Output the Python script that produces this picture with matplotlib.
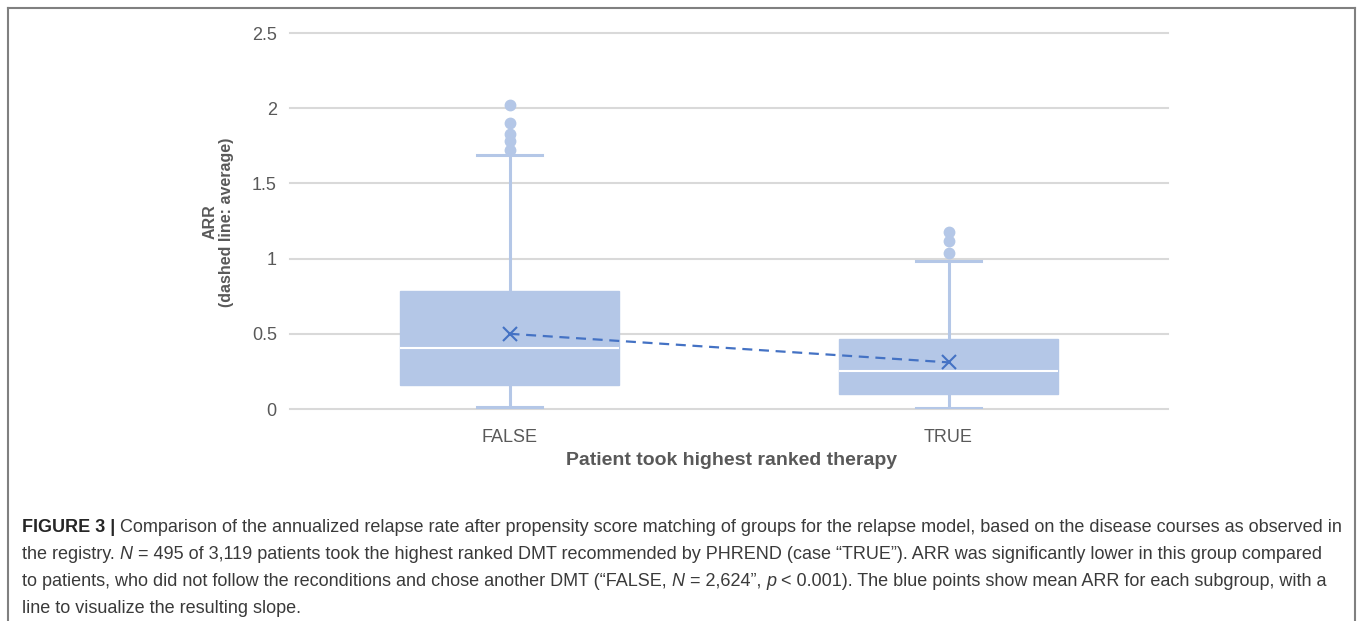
import matplotlib
matplotlib.use("Agg")
import matplotlib.pyplot as plt
from matplotlib.lines import Line2D
from matplotlib.ticker import FuncFormatter

# ---------------- data ----------------
categories = ["FALSE", "TRUE"]
whisker_low = [0.013, 0.007]
q1 = [0.16, 0.10]
median = [0.405, 0.253]
q3 = [0.785, 0.465]
whisker_high = [1.69, 0.985]
means = [0.50, 0.31]
outliers_false = [1.72, 1.78, 1.83, 1.90, 2.02]
outliers_true = [1.04, 1.12, 1.18]
yticks = [0, 0.5, 1, 1.5, 2, 2.5]

ylabel_text = "ARR\n(dashed line: average)"
xlabel_text = "Patient took highest ranked therapy"

caption_lines = [
    [("FIGURE 3 |", "bold"),
     (" Comparison of the annualized relapse rate after propensity score matching of groups for the relapse model, based on the disease courses as observed in", "normal")],
    [("the registry. ", "normal"), ("N", "italic"),
     (" = 495 of 3,119 patients took the highest ranked DMT recommended by PHREND (case \u201cTRUE\u201d). ARR was significantly lower in this group compared", "normal")],
    [("to patients, who did not follow the reconditions and chose another DMT (\u201cFALSE, ", "normal"), ("N", "italic"),
     (" = 2,624\u201d, ", "normal"), ("p", "italic"),
     (" < 0.001). The blue points show mean ARR for each subgroup, with a", "normal")],
    [("line to visualize the resulting slope.", "normal")],
]

# ---------------- style ----------------
BOX = "#B4C7E7"
MEAN = "#4472C4"
GRID = "#D9D9D9"
TXT = "#595959"
CAP = "#3a3a3a"
FONT = "Liberation Sans"
cap_family = "Liberation Sans"

plt.rcParams["font.family"] = [FONT, "DejaVu Sans"]

W, H = 1358, 621
fig = plt.figure(figsize=(W / 100, H / 100), dpi=100)
fig.patch.set_facecolor("white")

ax = fig.add_axes([290 / W, (H - 409) / H, 878 / W, 376 / H])

stats = []
for i, cat in enumerate(categories):
    stats.append(dict(label=cat, whislo=whisker_low[i], q1=q1[i], med=median[i],
                      q3=q3[i], whishi=whisker_high[i],
                      fliers=[outliers_false, outliers_true][i], mean=means[i]))

positions = list(range(len(categories)))
ax.bxp(stats, positions=positions, widths=0.5, capwidths=0.148,
       patch_artist=True, showmeans=False, manage_ticks=False,
       boxprops=dict(facecolor=BOX, edgecolor=BOX, linewidth=1),
       whiskerprops=dict(color=BOX, linewidth=2.2),
       capprops=dict(color=BOX, linewidth=2.2),
       medianprops=dict(color="white", linewidth=1.5),
       flierprops=dict(marker="o", markerfacecolor=BOX, markeredgecolor=BOX,
                       markersize=7.5))

ax.plot(positions, means, linestyle=(0, (4.5, 3)), color=MEAN, linewidth=1.6,
        zorder=4)
ax.plot(positions, means, linestyle="none", marker="x", color=MEAN,
        markersize=10, markeredgewidth=1.5, zorder=5)

ax.set_xlim(-0.5, len(categories) - 0.5)
ax.set_ylim(0, 2.5)
ax.set_yticks(yticks)
ax.yaxis.set_major_formatter(FuncFormatter(lambda v, p: f"{v:g}"))
ax.set_xticks(positions)
ax.set_xticklabels(categories)
ax.set_axisbelow(True)
ax.yaxis.grid(True, color=GRID, linewidth=1.5)
ax.xaxis.grid(False)
for gl in ax.get_ygridlines():
    gl.set_clip_on(False)
for s in ax.spines.values():
    s.set_visible(False)
ax.tick_params(axis="both", length=0, labelsize=13, labelcolor=TXT)
ax.tick_params(axis="y", pad=9.5)
ax.tick_params(axis="x", pad=14.5)
ax.set_facecolor("none")

fig.text(218 / W, 1 - 222 / H, ylabel_text, rotation=90, ha="center", va="center",
         multialignment="center", fontsize=11.5, fontweight="bold", color=TXT,
         linespacing=1.15)
fig.text(732 / W, 1 - 465 / H, xlabel_text, ha="center", va="baseline",
         fontsize=14, fontweight="bold", color=TXT)

# ---------------- border ----------------
bx0, bx1, by0 = 7.5 / W, 1354.5 / W, 1 - 7.5 / H
for xs, ys in [([bx0, bx1], [by0, by0]), ([bx0, bx0], [by0, -0.01]), ([bx1, bx1], [by0, -0.01])]:
    fig.add_artist(Line2D(xs, ys, transform=fig.transFigure, color="#808080", linewidth=1.5))

# ---------------- caption ----------------
fig.canvas.draw()
renderer = fig.canvas.get_renderer()


def style_kw(style, size):
    kw = dict(fontsize=size, family=[cap_family, "DejaVu Sans"], color=CAP)
    if style == "bold":
        kw["fontweight"] = "bold"
        kw["color"] = "#262626"
    elif style == "italic":
        kw["fontstyle"] = "italic"
    return kw


def text_width(s, style, size):
    t = fig.text(0, 0, s, **style_kw(style, size))
    w = t.get_window_extent(renderer).width
    t.remove()
    return w


def space_width(style, size):
    return text_width("x x", style, size) - text_width("xx", style, size)


def draw_line(segs, x0, ybase, size):
    x = x0
    artists = []
    for s, style in segs:
        lead = len(s) - len(s.lstrip(" "))
        trail = len(s) - len(s.rstrip(" "))
        core = s.strip(" ")
        sw = space_width(style, size)
        x += lead * sw
        if core:
            t = fig.text(x / W, 1 - ybase / H, core, ha="left", va="baseline",
                         **style_kw(style, size))
            artists.append(t)
            x += t.get_window_extent(renderer).width
        x += trail * sw
    right = max(a.get_window_extent(renderer).x1 for a in artists)
    return artists, right


x_left = 22
x_right = 1342
size = 11.0
for _ in range(3):
    arts, right = draw_line(caption_lines[0], x_left, 0, size)
    for a in arts:
        a.remove()
    size *= (x_right - x_left) / (right - x_left)

baselines = [532, 559, 586, 613]
for segs, yb in zip(caption_lines, baselines):
    draw_line(segs, x_left, yb, size)

fig.savefig("out.png", dpi=100, facecolor="white")
